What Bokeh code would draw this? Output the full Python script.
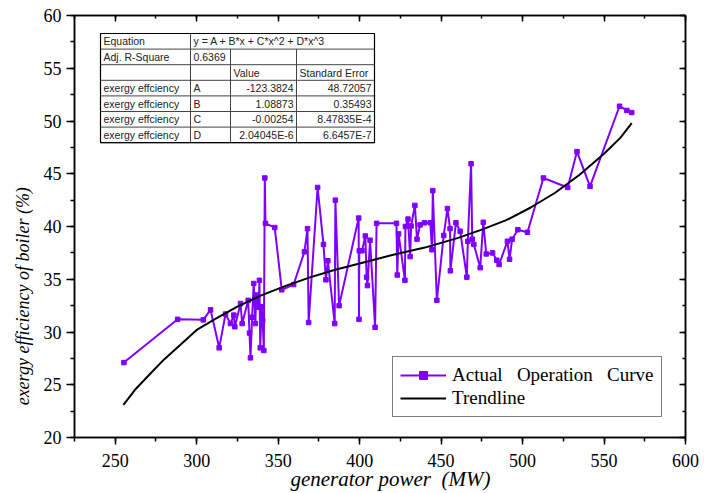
from bokeh.plotting import figure
from bokeh.models import (Range1d, SingleIntervalTicker, LinearAxis,
                          Legend, LegendItem, CustomJSTickFormatter)
from bokeh.core.properties import value
from bokeh.embed import file_html
from bokeh.resources import INLINE

# ---------------- data ----------------
power_mw = [255.3, 288.3, 304.0, 308.5, 313.8, 317.7, 320.7, 322.8, 323.4, 326.9,
            327.9, 331.6, 332.4, 333.0, 334.0, 335.0, 336.0, 336.5, 338.0, 338.5,
            339.0, 339.8, 340.5, 341.2, 341.8, 342.2, 347.9, 352.2, 359.5, 366.1,
            368.0, 368.7, 374.2, 377.8, 379.3, 380.5, 384.7, 385.1, 387.4, 399.4,
            399.6, 399.8, 401.5, 403.5, 404.3, 404.8, 406.4, 409.5, 410.4, 422.6,
            423.1, 423.9, 427.8, 428.1, 429.7, 431.0, 431.6, 433.9, 435.2, 437.1,
            439.8, 443.4, 444.4, 444.9, 447.4, 451.6, 453.9, 455.5, 455.7, 459.1,
            461.7, 465.8, 466.4, 468.4, 469.1, 470.1, 474.0, 475.9, 477.7, 481.6,
            484.2, 485.6, 490.7, 492.0, 493.6, 497.1, 503.0, 512.8, 527.7, 533.4,
            541.4, 559.5, 564.0, 567.0]
exergy_eff = [27.1, 31.2, 31.15, 32.1, 28.5, 31.7, 30.8, 31.6, 30.5, 32.7,
              30.8, 33.0, 29.9, 27.55, 31.4, 34.6, 30.8, 33.5, 32.35, 34.9,
              28.5, 32.4, 31.1, 28.25, 44.6, 40.3, 39.9, 34.0, 34.5, 37.6,
              39.8, 30.9, 43.7, 38.3, 34.95, 36.75, 30.8, 42.5, 32.5, 40.8,
              31.2, 37.7, 37.7, 39.1, 35.2, 34.4, 38.7, 30.45, 40.3, 40.3,
              35.4, 39.3, 34.9, 40.0, 40.7, 37.15, 40.05, 42.0, 38.8, 40.15,
              40.35, 40.35, 37.8, 43.4, 33.0, 39.15, 41.7, 39.8, 35.8, 40.35,
              39.55, 35.2, 38.6, 45.95, 38.8, 38.3, 36.1, 40.4, 37.4, 37.5,
              36.8, 36.4, 38.6, 36.9, 38.8, 39.7, 39.45, 44.6, 43.7, 47.1,
              43.8, 51.4, 51.0, 50.8]

trend_x = [255, 262, 270, 280, 290, 300, 312, 325, 340, 355, 370, 385, 400,
           420, 440, 460, 475, 490, 505, 520, 535, 550, 560, 567]
trend_y = [23.1, 24.5, 25.8, 27.4, 28.8, 30.2, 31.3, 32.4, 33.5, 34.4, 35.2, 35.9, 36.5,
           37.3, 38.0, 38.9, 39.7, 40.6, 41.8, 43.2, 44.9, 46.9, 48.4, 49.8]

x_ticks_interval = 50
y_ticks_interval = 5

table_rows = [
    ["Equation", "y = A + B*x + C*x^2 + D*x^3", "", ""],
    ["Adj. R-Square", "0.6369", "", ""],
    ["", "", "Value", "Standard Error"],
    ["exergy effciency", "A", "-123.3824", "48.72057"],
    ["exergy effciency", "B", "1.08873", "0.35493"],
    ["exergy effciency", "C", "-0.00254", "8.47835E-4"],
    ["exergy effciency", "D", "2.04045E-6", "6.6457E-7"],
]

NB = "\u00a0"
x_title = NB * 4 + "generator power" + NB * 2 + "(MW)"
y_title = "exergy efficiency of boiler (%)" + NB * 31
legend_labels = ["Actual" + NB * 3 + "Operation" + NB * 3 + "Curve", "Trendline"]

# ---------------- geometry / style ----------------
W, H = 704, 493
FR_L, FR_R, FR_T, FR_B = 74, 685, 15, 437
X0, X1, Y0, Y1 = 225, 600, 20, 60
PURPLE = "#8000ff"
SERIF = "Liberation Serif"
SANS = "Liberation Sans"


def px2x(px):
    return X0 + (px - FR_L) * (X1 - X0) / (FR_R - FR_L)


def py2y(py):
    return Y1 - (py - FR_T) * (Y1 - Y0) / (FR_B - FR_T)


p = figure(width=W, height=H, x_range=Range1d(X0, X1), y_range=Range1d(Y0, Y1),
           output_backend="svg", toolbar_location=None,
           min_border_left=FR_L, min_border_right=W - FR_R,
           min_border_top=FR_T, min_border_bottom=H - FR_B)
p.xgrid.visible = False
p.ygrid.visible = False
p.outline_line_color = "black"
p.outline_line_width = 1.5
p.background_fill_color = "white"
p.border_fill_color = "white"

for ax, itv in ((p.xaxis, x_ticks_interval), (p.yaxis, y_ticks_interval)):
    ax.ticker = SingleIntervalTicker(interval=itv, num_minor_ticks=2)
    ax.axis_line_width = 1.5
    ax.axis_line_color = "black"
    ax.major_tick_line_width = 1.5
    ax.minor_tick_line_width = 1.5
    ax.major_tick_in = 0
    ax.minor_tick_out = 4
    ax.minor_tick_in = 0
    ax.major_label_text_font = SERIF
    ax.major_label_text_font_size = "18px"
    ax.major_label_text_color = "black"
    ax.axis_label_text_font = SERIF
    ax.axis_label_text_font_style = "italic"
    ax.axis_label_text_color = "black"
p.xaxis.axis_label_text_font_size = "21px"
p.yaxis.axis_label_text_font_size = "18px"
p.xaxis.major_tick_out = 7
p.yaxis.major_tick_out = 8
p.xaxis.major_label_standoff = 9
p.yaxis.major_label_standoff = 5
p.xaxis.axis_label = x_title
p.yaxis.axis_label = y_title
p.xaxis.axis_label_standoff = -3
p.yaxis.axis_label_standoff = 8

blank = CustomJSTickFormatter(code="return ''")
top_ax = LinearAxis(ticker=SingleIntervalTicker(interval=x_ticks_interval, num_minor_ticks=2),
                    formatter=blank)
right_ax = LinearAxis(ticker=SingleIntervalTicker(interval=y_ticks_interval, num_minor_ticks=2),
                      formatter=blank)
for ax in (top_ax, right_ax):
    ax.major_label_standoff = 0
    ax.axis_line_width = 1.5
    ax.major_tick_line_width = 1.5
    ax.minor_tick_line_width = 1.5
    ax.major_tick_in = 6
    ax.major_tick_out = 0
    ax.minor_tick_in = 3
    ax.minor_tick_out = 0
p.add_layout(top_ax, "above")
p.add_layout(right_ax, "right")

# ---------------- series ----------------
r_line = p.line(power_mw, exergy_eff, line_color=PURPLE, line_width=2)
r_mark = p.scatter(power_mw, exergy_eff, marker="square", size=4.5,
                   fill_color=PURPLE, line_color=PURPLE)
r_trend = p.line(trend_x, trend_y, line_color="black", line_width=2)

legend = Legend(items=[LegendItem(label=legend_labels[0], renderers=[r_line, r_mark]),
                       LegendItem(label=legend_labels[1], renderers=[r_trend])],
                location=(318, 20))
legend.label_text_font = SERIF
legend.label_text_font_size = "19px"
legend.label_text_color = "black"
legend.glyph_width = 46
legend.glyph_height = 20
legend.label_height = 20
legend.label_standoff = 6
legend.padding = 7
legend.spacing = 1
legend.margin = 0
legend.border_line_color = "black"
legend.border_line_width = 1.5
legend.background_fill_alpha = 1
p.add_layout(legend, "center")

# ---------------- inset table ----------------
col_px = [100, 190, 230, 296, 374]
row_top = 33
row_h = 15.6
n_rows = len(table_rows)
row_px = [row_top + i * row_h for i in range(n_rows + 1)]

hx0, hy0, hx1, hy1 = [], [], [], []
for ry in row_px:
    hx0.append(px2x(col_px[0])); hx1.append(px2x(col_px[-1]))
    hy0.append(py2y(ry)); hy1.append(py2y(ry))
vx0, vy0, vx1, vy1 = [], [], [], []
for j, cx in enumerate(col_px):
    start = row_px[0] if j in (0, 1, len(col_px) - 1) else row_px[1]
    vx0.append(px2x(cx)); vx1.append(px2x(cx))
    vy0.append(py2y(start)); vy1.append(py2y(row_px[-1]))
p.segment(hx0, hy0, hx1, hy1, line_color="#444444", line_width=1)
p.segment(vx0, vy0, vx1, vy1, line_color="#444444", line_width=1)
p.segment([px2x(col_px[0]), px2x(col_px[0]), px2x(col_px[-1]), px2x(col_px[0])],
          [py2y(row_px[0]), py2y(row_px[-1]), py2y(row_px[0]), py2y(row_px[0])],
          [px2x(col_px[-1]), px2x(col_px[-1]), px2x(col_px[-1]), px2x(col_px[0])],
          [py2y(row_px[0]), py2y(row_px[-1]), py2y(row_px[-1]), py2y(row_px[-1])],
          line_color="black", line_width=1.2)

lx, ly, lt = [], [], []
rx, ry_, rt = [], [], []
for i, row in enumerate(table_rows):
    cy = py2y(row_px[i] + row_h / 2)
    for j, txt in enumerate(row):
        if not txt:
            continue
        if i >= 3 and j >= 2:
            rx.append(px2x(col_px[j + 1] - 3)); ry_.append(cy); rt.append(txt)
        else:
            lx.append(px2x(col_px[j] + 3)); ly.append(cy); lt.append(txt)
p.text(lx, ly, text=lt, text_font=value(SANS), text_font_size=value("10.5px"),
       text_color="#222222", text_align="left", text_baseline="middle")
p.text(rx, ry_, text=rt, text_font=value(SANS), text_font_size=value("10.5px"),
       text_color="#222222", text_align="right", text_baseline="middle")

open("out.html", "w").write(file_html(p, INLINE))
